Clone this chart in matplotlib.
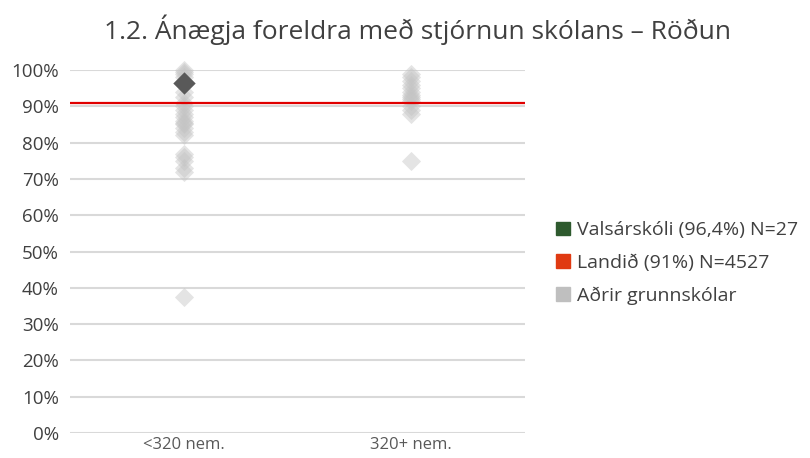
import matplotlib.pyplot as plt
from matplotlib.patches import Patch

plt.rcParams['font.family'] = ['Open Sans', 'DejaVu Sans']

# gögn
flokkar = ["<320 nem.", "320+ nem."]
adrir_litlir = [100, 99.5, 99, 98, 94, 92.5, 91, 90, 89, 88, 87, 86, 85.5, 85, 84, 83, 82, 77, 76, 75, 73, 72, 37.5]
adrir_storir = [99, 98, 97, 96, 95, 94, 93, 92.5, 92, 91.5, 90, 89, 88, 75]
skoli_gildi = 96.4
landid = 91

fig = plt.figure(figsize=(8.1, 4.58), dpi=100)
ax = fig.add_axes([0.0864, 0.0546, 0.5617, 0.7925])

ax.scatter([0] * len(adrir_litlir), adrir_litlir, marker="D", s=95, color="#c4c4c4",
           alpha=0.45, linewidths=0, zorder=3, clip_on=False)
ax.scatter([1] * len(adrir_storir), adrir_storir, marker="D", s=95, color="#c4c4c4",
           alpha=0.45, linewidths=0, zorder=3, clip_on=False)
ax.scatter([0], [skoli_gildi], marker="D", s=130, color="#595959", linewidths=0, zorder=5)
ax.axhline(landid, color="#e00000", lw=1.6, zorder=4)

ax.set_xlim(-0.5, 1.5)
ax.set_ylim(0, 100)
ax.set_yticks(range(0, 101, 10))
ax.set_yticklabels([f"{v}%" for v in range(0, 101, 10)])
ax.set_xticks([0, 1])
ax.set_xticklabels(flokkar)
ax.grid(axis="y", color="#d9d9d9", lw=1.5, zorder=0)
ax.set_axisbelow(True)
for s in ax.spines.values():
    s.set_visible(False)
ax.tick_params(axis="y", length=0, labelsize=13.5, labelcolor="#404040", pad=8)
ax.tick_params(axis="x", length=0, labelsize=12, labelcolor="#595959", pad=3)

fig.text(0.515, 0.934, "1.2. Ánægja foreldra með stjórnun skólans – Röðun",
         ha="center", va="center", fontsize=19, color="#404040")

handles = [Patch(color="#2e5a2e", label="Valsárskóli (96,4%) N=27"),
           Patch(color="#e03a12", label="Landið (91%) N=4527"),
           Patch(color="#bfbfbf", label="Aðrir grunnskólar")]
leg = fig.legend(handles=handles, loc="center left", bbox_to_anchor=(0.665, 0.426),
                 frameon=False, fontsize=14, handlelength=0.7, handleheight=0.7,
                 handletextpad=0.35, labelspacing=0.75)
for t in leg.get_texts():
    t.set_color("#404040")

fig.savefig("out.png", dpi=100)
